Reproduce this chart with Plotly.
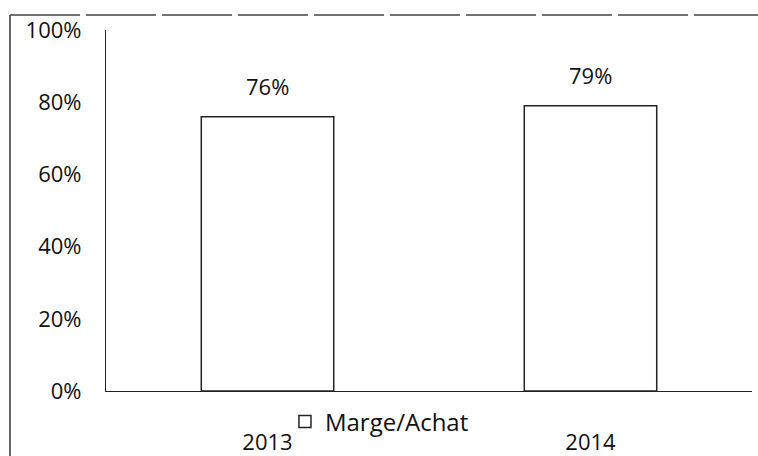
import plotly.graph_objects as go

years = ["2013", "2014"]
marge_achat = [0.76, 0.79]
series_name = "Marge/Achat"
y_ticks = [0, 0.2, 0.4, 0.6, 0.8, 1.0]

L, R, T, B = 106, 6, 30, 65
W, H = 758, 456
PW, PH = W - L - R, H - T - B

fig = go.Figure()
fig.add_trace(go.Bar(
    x=years, y=marge_achat, name=series_name,
    marker=dict(color="white", line=dict(color="#222", width=1.5)),
    showlegend=True,
))

for i, v in enumerate(marge_achat):
    fig.add_annotation(x=i, y=v, text=f"{round(v*100)}%", showarrow=False,
                       yanchor="bottom", yshift=14,
                       font=dict(size=22, color="#111"))

fig.update_layout(
    width=W, height=H,
    margin=dict(l=L, r=R, t=T, b=B),
    paper_bgcolor="white", plot_bgcolor="white",
    font=dict(family="Open Sans, Liberation Sans, sans-serif", size=22, color="#111"),
    bargap=0.59,
    showlegend=True,
    legend=dict(orientation="h", x=0.277, y=(391 - 422) / PH, xanchor="left", yanchor="middle",
                font=dict(size=24), bgcolor="rgba(0,0,0,0)"),
    xaxis=dict(type="category", range=[-0.5, 1.5], showline=True, linecolor="#222", linewidth=1.2,
               showgrid=False, ticks="", ticklabelstandoff=31, zeroline=False, automargin=False),
    yaxis=dict(range=[0, 1], tickvals=y_ticks, tickformat=".0%",
               showline=True, linecolor="#222", linewidth=1.2, showgrid=False,
               ticks="", ticklabelstandoff=19, zeroline=False, automargin=False),
    shapes=[
        dict(type="line", xref="paper", yref="paper", x0=(10 - L) / PW, x1=(10 - L) / PW,
             y0=(T + PH - H) / PH, y1=(T + PH - 15) / PH, line=dict(color="#333", width=1.5)),
        dict(type="line", xref="paper", yref="paper", x0=(10 - L) / PW, x1=(W - L) / PW,
             y0=(T + PH - 15) / PH, y1=(T + PH - 15) / PH,
             line=dict(color="#444", width=1.3, dash="70px,6px")),
    ],
)

fig.write_html("out.html", post_script="document.body.style.margin='0';",
               config={"displayModeBar": False})
